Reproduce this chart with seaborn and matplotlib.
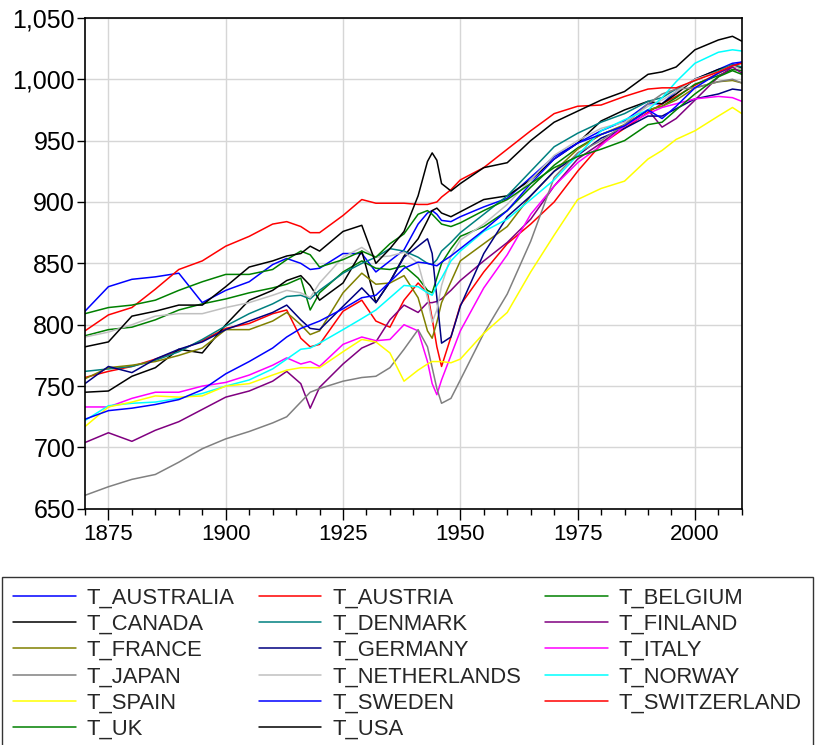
import matplotlib
matplotlib.use("Agg")
import matplotlib.pyplot as plt
from matplotlib.lines import Line2D
from matplotlib.ticker import FuncFormatter, MultipleLocator
import seaborn as sns
import pandas as pd

# values
years = [1870, 1875, 1880, 1885, 1890, 1895, 1900, 1905, 1910, 1913, 1916, 1918, 1920,
         1925, 1929, 1932, 1935, 1938, 1941, 1943, 1944, 1945, 1946, 1948, 1950,
         1955, 1960, 1965, 1970, 1975, 1980, 1985, 1990, 1993, 1996, 2000, 2005, 2008, 2010]

australia = [811, 831, 837, 839, 842, 818, 828, 835, 849, 854, 850, 845, 846,
             858, 858, 843, 852, 861, 882, 891, 893, 890, 885, 884, 888,
             896, 903, 920, 937, 948, 958, 966, 980, 980, 990, 1000, 1008, 1013, 1014]
austria = [757, 762, 766, 772, 779, 787, 797, 801, 809, 812, 789, 782, 784,
           811, 820, 803, 798, 820, 834, 826, 805, 782, 766, 790, 816,
           843, 866, 882, 900, 925, 947, 960, 973, 980, 986, 995, 1005, 1010, 1010]
belgium = [791, 796, 798, 804, 812, 817, 821, 826, 830, 833, 838, 812, 826,
           843, 852, 846, 845, 848, 838, 828, 826, 838, 850, 862, 872,
           880, 893, 912, 930, 944, 955, 962, 975, 978, 985, 996, 1003, 1008, 1007]
canada = [745, 746, 758, 765, 780, 777, 800, 820, 828, 836, 840, 832, 820,
          834, 860, 818, 835, 856, 870, 885, 893, 895, 891, 888, 892,
          902, 905, 918, 935, 948, 966, 975, 982, 980, 988, 1000, 1008, 1011, 1009]
denmark = [762, 764, 766, 771, 778, 788, 799, 809, 817, 823, 824, 821, 828,
           842, 850, 855, 862, 860, 855, 850, 849, 853, 860, 867, 875,
           890, 905, 925, 945, 956, 965, 972, 982, 985, 992, 999, 1007, 1012, 1010]
finland = [704, 712, 705, 714, 721, 731, 741, 746, 754, 762, 752, 732, 749,
           768, 781, 786, 804, 816, 810, 818, 818, 819, 821, 828, 836,
           852, 867, 886, 913, 935, 948, 962, 975, 961, 968, 983, 1002, 1010, 1005]
france = [756, 765, 767, 770, 775, 781, 796, 796, 803, 810, 800, 792, 795,
          826, 842, 833, 834, 840, 822, 795, 789, 802, 818, 835, 852,
          866, 880, 905, 925, 943, 955, 963, 975, 978, 983, 993, 998, 999, 997]
germany = [752, 766, 761, 772, 780, 786, 796, 803, 810, 816, 804, 797, 796,
           815, 830, 818, 835, 855, 864, 870, 858, 822, 785, 790, 815,
           858, 888, 905, 925, 938, 952, 960, 970, 970, 976, 984, 988, 992, 991]
italy = [733, 733, 740, 745, 745, 750, 753, 759, 767, 773, 768, 770, 766,
         784, 790, 787, 788, 800, 795, 770, 752, 743, 755, 775, 795,
         830, 857, 890, 913, 932, 946, 962, 972, 977, 980, 984, 986, 985, 982]
japan = [661, 668, 674, 678, 688, 699, 707, 713, 720, 725, 737, 745, 748,
         754, 757, 758, 765, 780, 796, 782, 765, 748, 736, 740, 755,
         793, 825, 868, 920, 940, 950, 963, 980, 988, 992, 993, 998, 1000, 997]
netherlands = [790, 794, 800, 807, 809, 809, 814, 818, 824, 828, 826, 822, 834,
               855, 863, 855, 856, 859, 850, 822, 802, 812, 832, 856, 869,
               882, 898, 918, 938, 950, 960, 965, 978, 983, 990, 1000, 1006, 1011, 1008]
norway = [722, 734, 736, 737, 740, 744, 750, 755, 764, 772, 780, 781, 785,
          796, 805, 812, 822, 832, 831, 826, 824, 832, 838, 852, 860,
          876, 886, 902, 918, 938, 958, 967, 975, 985, 998, 1013, 1022, 1024, 1023]
spain = [717, 733, 737, 742, 741, 742, 750, 752, 759, 763, 765, 765, 765,
         778, 788, 786, 777, 754, 763, 768, 770, 770, 770, 769, 772,
         793, 810, 843, 873, 902, 911, 917, 935, 942, 951, 958, 970, 977, 972]
sweden = [723, 730, 732, 735, 739, 747, 760, 770, 781, 790, 797, 800, 803,
          813, 822, 824, 835, 846, 851, 850, 849, 848, 851, 856, 862,
          877, 893, 915, 935, 948, 955, 962, 975, 968, 978, 993, 1005, 1011, 1014]
switzerland = [795, 808, 814, 829, 845, 852, 864, 872, 882, 884, 880, 875, 875,
               889, 902, 899, 899, 899, 898, 898, 899, 900, 904, 910, 918,
               928, 943, 958, 972, 978, 979, 986, 992, 993, 993, 999, 1006, 1011, 1013]
uk = [809, 814, 816, 820, 828, 835, 841, 841, 845, 853, 860, 857, 847,
      853, 860, 855, 866, 874, 890, 893, 890, 886, 882, 880, 883,
      893, 902, 915, 928, 937, 943, 950, 963, 965, 975, 988, 1002, 1007, 1004]
usa = [782, 786, 807, 811, 816, 816, 831, 847, 852, 856, 858, 864, 860,
       876, 881, 850, 862, 876, 905, 933, 940, 934, 915, 909, 915,
       928, 932, 950, 965, 974, 983, 990, 1004, 1006, 1010, 1024, 1032, 1035, 1031]

names = ["T_AUSTRALIA", "T_AUSTRIA", "T_BELGIUM", "T_CANADA", "T_DENMARK", "T_FINLAND",
         "T_FRANCE", "T_GERMANY", "T_ITALY", "T_JAPAN", "T_NETHERLANDS", "T_NORWAY",
         "T_SPAIN", "T_SWEDEN", "T_SWITZERLAND", "T_UK", "T_USA"]
colors = ["#0000ff", "#ff0000", "#008000", "#000000", "#008080", "#800080",
          "#808000", "#000080", "#ff00ff", "#808080", "#c0c0c0", "#00ffff",
          "#ffff00", "#0000ff", "#ff0000", "#008000", "#000000"]

series = [australia, austria, belgium, canada, denmark, finland, france, germany, italy,
          japan, netherlands, norway, spain, sweden, switzerland, uk, usa]

wide = pd.DataFrame(dict(zip(names, series)), index=years)
wide.index.name = "year"
long = wide.reset_index().melt(id_vars="year", var_name="series", value_name="value")

sns.set_style("white")
plt.rcParams["font.family"] = ["Liberation Sans", "DejaVu Sans"]

fig = plt.figure(figsize=(8.17, 7.45), dpi=100)
ax = fig.add_axes([0.104, 0.317, 0.804, 0.659])

sns.lineplot(data=long, x="year", y="value", hue="series", hue_order=names,
             palette=dict(zip(names, colors)), linewidth=1.1, errorbar=None,
             legend=False, ax=ax)

ax.set_xlim(1870, 2010)
ax.set_ylim(650, 1050)
ax.xaxis.set_major_locator(MultipleLocator(25))
ax.xaxis.set_minor_locator(MultipleLocator(5))
ax.yaxis.set_major_locator(MultipleLocator(50))
ax.yaxis.set_major_formatter(FuncFormatter(lambda v, _: f"{v:,.0f}"))
ax.set_xlabel("")
ax.set_ylabel("")

ax.set_axisbelow(True)
ax.grid(True, which="major", color="#d6d6d6", linewidth=1.0)
for s in ax.spines.values():
    s.set_color("black")
    s.set_linewidth(1.2)

ax.tick_params(axis="y", left=True, direction="out", length=5.5, width=1,
               labelsize=18, pad=1.5, colors="black")
ax.tick_params(axis="x", which="major", bottom=True, direction="out", length=8,
               width=1, labelsize=16, pad=3, colors="black")
ax.tick_params(axis="x", which="minor", bottom=True, direction="out", length=4.5,
               width=1, colors="black")

# legend filled row by row, as in the reference
handles = [Line2D([], [], color=c, lw=1.1) for c in colors]
order = [0, 3, 6, 9, 12, 15, 1, 4, 7, 10, 13, 16, 2, 5, 8, 11, 14]
leg = fig.legend([handles[i] for i in order], [names[i] for i in order], ncol=3,
                 loc="upper left", bbox_to_anchor=(0.003, 0.226), frameon=True,
                 fancybox=False, edgecolor="black", fontsize=15.8, handlelength=2.85,
                 handletextpad=0.5, columnspacing=1.1, labelspacing=0.24,
                 borderpad=0.5, borderaxespad=0)
leg.get_frame().set_linewidth(1.0)

fig.savefig("out.png", dpi=100)
